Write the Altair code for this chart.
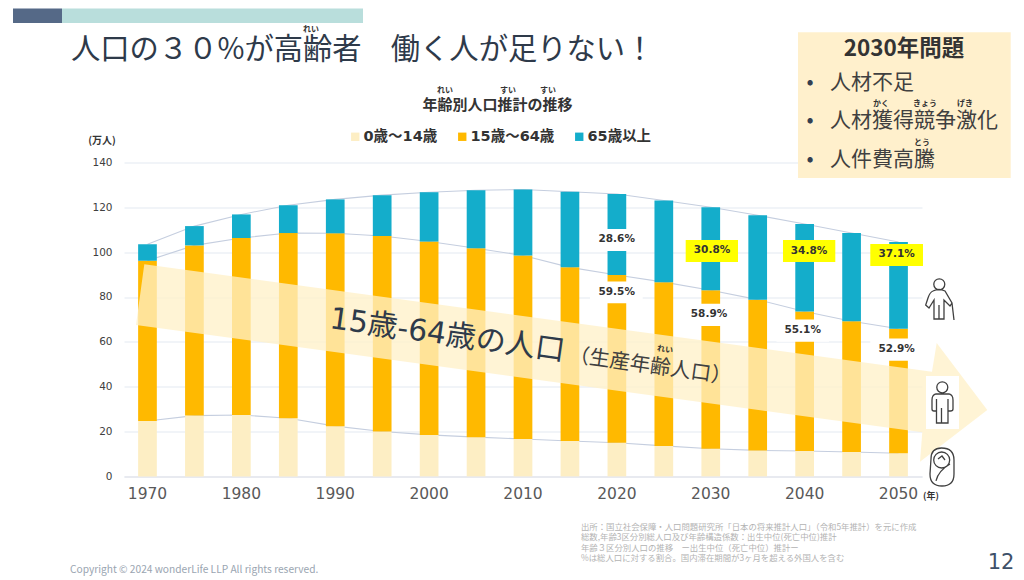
import altair as alt
import pandas as pd

FONT = "Noto Sans CJK JP"
MIX = "DejaVu Sans, Noto Sans CJK JP"
years = list(range(1970, 2051, 5))
young = [24.7, 27.1, 27.4, 25.9, 22.4, 20.0, 18.5, 17.5, 16.7, 15.8, 15.0, 13.6, 12.3, 11.6, 11.3, 10.9, 10.3]
working = [71.5, 75.9, 78.9, 82.6, 86.0, 87.2, 86.2, 84.2, 81.8, 77.4, 74.8, 73.0, 70.7, 67.2, 62.2, 58.3, 55.5]
elderly = [7.3, 8.6, 10.5, 12.4, 15.1, 18.2, 22.0, 25.9, 29.4, 33.7, 36.1, 36.4, 37.0, 37.6, 39.0, 39.3, 38.7]
series = ["0歳〜14歳", "15歳〜64歳", "65歳以上"]
colors = ["#FDEEC4", "#FFB900", "#14ADCB"]
decades = list(range(1970, 2051, 10))
y_ticks = [0, 20, 40, 60, 80, 100, 120, 140]

rows = []
for i, y in enumerate(years):
    for k, (s, v) in enumerate(zip(series, (young[i], working[i], elderly[i]))):
        rows.append({"year": y, "series": s, "value": v, "k": k})
bars_df = pd.DataFrame(rows)

line_rows = []
for i, y in enumerate(years):
    c = 0
    for s, v in zip(series, (young[i], working[i], elderly[i])):
        c += v
        line_rows.append({"year": y, "series": s, "cum": c})
lines_df = pd.DataFrame(line_rows)

OX, OY = 124, 162.4  # reference pixel of the plot's top-left
x_scale = alt.Scale(paddingInner=0.6, paddingOuter=0.3)
y_scale = alt.Scale(domain=[0, 140], nice=False)
x_enc = alt.X("year:O", scale=x_scale, title=None,
              axis=alt.Axis(values=decades, labelAngle=0, labelFontSize=15.5, labelColor="#595959", labelFont="DejaVu Sans",
                            ticks=False, domainColor="#E4E7EE", domainWidth=1.5, labelPadding=10, grid=False))


def txt(s, x, y, size, color="#404040", weight="normal", align="center", angle=0, font=FONT):
    return alt.Chart(pd.DataFrame({"t": [s]})).mark_text(
        fontSize=size, color=color, fontWeight=weight, align=align, baseline="middle", angle=angle, font=font
    ).encode(x=alt.value(x - OX), y=alt.value(y - OY), text="t:N")


def box(x0, x1, y0, y1, color):
    return alt.Chart(pd.DataFrame({"a": [0]})).mark_rect(color=color).encode(
        x=alt.value(x0 - OX), x2=alt.value(x1 - OX), y=alt.value(y0 - OY), y2=alt.value(y1 - OY))


def shape(path, fill=None, stroke=None, opacity=1.0, width=1.3):
    kw = {"filled": fill is not None, "size": 4, "shape": path, "opacity": opacity}
    if fill is not None:
        kw["fill"] = fill
        kw["strokeWidth"] = 0
    if stroke is not None:
        kw["stroke"] = stroke
        kw["strokeWidth"] = width
    return alt.Chart(pd.DataFrame({"a": [0]})).mark_point(**kw).encode(
        x=alt.value(-OX), y=alt.value(-OY))


lines = alt.Chart(lines_df).mark_line(color="#C5CEDF", strokeWidth=1.1, interpolate="linear").encode(
    x=x_enc,
    y=alt.Y("cum:Q", scale=y_scale, title=None,
            axis=alt.Axis(values=y_ticks, labelFontSize=10.5, labelColor="#404040", labelFont="DejaVu Sans", ticks=False,
                          domain=False, gridColor="#EDF0F6", gridWidth=1.5, labelPadding=12)),
    detail="series:N",
)

bars = alt.Chart(bars_df).mark_bar(size=18.7).encode(
    x=x_enc,
    y=alt.Y("value:Q", stack="zero", scale=y_scale, title=None),
    color=alt.Color("series:N", sort=series, scale=alt.Scale(domain=series, range=colors),
                    legend=alt.Legend(orient="none", legendX=224, legendY=-33, direction="horizontal", title=None,
                                      symbolType="square", symbolSize=70, symbolStrokeWidth=0, labelFontSize=14.5,
                                      labelFontWeight="bold", labelColor="#333333", labelFont=MIX,
                                      columnPadding=17, labelOffset=1)),
    order=alt.Order("k:Q"),
)

arrow = ("M144.3 264.3 L932 371.7 L936.7 343 L987.3 410 L920 461.7 L922.3 432.3 L136 325 Z")
elder = ("M944.8 284.3 a5.5 5.5 0 1 0 -11 0 a5.5 5.5 0 1 0 11 0 Z "
         "M933 291 Q930 292 928 298 L925.7 305 L929 308 L934 300 L934 319 L939 319 L939 305 L939 319 L944 319 L944 300 "
         "L950 306 L952 303 L945 291 Q939 288 933 291 Z M952 303 L954 320")
person = ("M947.8 387.3 a5.5 5.5 0 1 0 -11 0 a5.5 5.5 0 1 0 11 0 Z "
          "M936 394 Q932 395 932 400 L932 409 Q932 411 934 411 L936.5 411 L936.5 423 L941.5 423 L941.5 408 L941.5 423 "
          "L948 423 L948 411 L950.5 411 Q953 411 953 409 L953 400 Q953 395 949 394 Z M936.5 399 L936.5 411 M948 399 L948 411")
baby = ("M931 459 Q931 448 941.5 448 Q954 448 954 460 L954 474 Q954 486 942 486 Q930 486 930 474 Z "
        "M949.7 460 a8 8 0 1 0 -16 0 a8 8 0 1 0 16 0 Z M936 481 Q938 471 950 464 M938 459 L942 456 L945 460")

layers = [lines, bars]
# label backgrounds
for x0, x1, y0, y1, c in [
    (590, 642.7, 229, 251, "white"), (590, 642.7, 281.5, 303.3, "white"),
    (683, 735.5, 303.7, 326, "white"), (776.5, 829, 319.5, 341.7, "white"), (870.3, 923, 338.5, 360.7, "white"),
    (685.7, 738, 240, 262, "#FFFF00"), (783, 835.3, 240, 262, "#FFFF00"), (870.3, 923, 244, 266, "#FFFF00"),
]:
    layers.append(box(x0, x1, y0, y1, c))

layers.append(shape(arrow, fill="#FFF0C8", opacity=0.76))
layers.append(box(926, 959, 376, 429, "white"))
layers.extend([shape(elder, stroke="#404040"), shape(person, stroke="#404040"), shape(baby, stroke="#404040")])

for s, x, y in [("28.6%", 616.7, 239.5), ("59.5%", 616.7, 292), ("30.8%", 712, 250.5), ("58.9%", 709, 314.5),
                ("34.8%", 809, 251), ("55.1%", 802.7, 330.5), ("37.1%", 896.7, 254.5), ("52.9%", 896.7, 349)]:
    layers.append(txt(s, x, y, 10.5, color="#333333", weight="bold", font="DejaVu Sans"))

# header
layers.append(box(13, 62, 8.5, 23, "#556987"))
layers.append(box(62, 363, 8.5, 23, "#B9DEDC"))
layers.append(txt("人口の３０%が高齢者　働く人が足りない！", 71, 50.5, 29.3, color="#2E3A4A", align="left"))
layers.append(txt("れい", 311, 30, 8, color="#333333", weight="bold"))

# chart title
layers.append(txt("年齢別人口推計の推移", 497.5, 105, 15, color="#333333", weight="bold"))
for s, x in [("れい", 445), ("すい", 508), ("すい", 548)]:
    layers.append(txt(s, x, 91, 8, color="#333333", weight="bold"))
layers.append(txt("(万人)", 102, 141, 10, color="#333333", weight="bold"))
layers.append(txt("(年)", 931, 496, 9, color="#333333", weight="bold"))

# arrow text
layers.append(txt("15歳-64歳の人口", 330, 319, 30, color="#2E3A4A", align="left", angle=8, font=MIX))
layers.append(txt("（生産年齢人口）", 569, 355, 20.5, color="#404040", align="left", angle=8))
layers.append(txt("れい", 665, 350, 8, color="#333333", weight="bold", angle=8))

# side box
layers.append(box(798, 1010.7, 32.3, 178, "#FFF0CC"))
layers.append(txt("2030年問題", 904, 49, 22.5, color="#333333", weight="bold"))
for s, y in [("人材不足", 83), ("人材獲得競争激化", 121), ("人件費高騰", 160)]:
    layers.append(txt("•", 810, y, 21, color="#333F50"))
    layers.append(txt(s, 830, y, 21, color="#404040", align="left"))
for s, x, y in [("かく", 881, 104), ("きょう", 925, 104), ("げき", 965, 104), ("とう", 922, 143)]:
    layers.append(txt(s, x, y, 8, color="#333333", weight="bold"))

# notes
notes = ["出所：国立社会保障・人口問題研究所「日本の将来推計人口」（令和5年推計）を元に作成",
         "総数,年齢3区分別総人口及び年齢構造係数：出生中位(死亡中位)推計",
         "年齢３区分別人口の推移　ー出生中位（死亡中位）推計ー",
         "%は総人口に対する割合。国内滞在期間が3ヶ月を超える外国人を含む"]
for s, y in zip(notes, [527, 537, 548, 558]):
    layers.append(txt(s, 581, y, 8.4, color="#B3B3B3", align="left"))
layers.append(txt("Copyright © 2024 wonderLife LLP All rights reserved.", 70, 570, 10.2, color="#9AA5B1", align="left"))
layers.append(txt("12", 1001, 563, 21, color="#3E5068", font="DejaVu Sans"))

chart = alt.layer(*layers).resolve_scale(color="independent").properties(
    width=798, height=314, autosize=alt.AutoSizeParams(type="none"),
    padding={"left": OX - 8, "top": OY - 8, "right": 94, "bottom": 102},
    background="white",
).configure_view(stroke=None)

chart.save("out.html", embed_options={"renderer": "svg", "actions": False})
